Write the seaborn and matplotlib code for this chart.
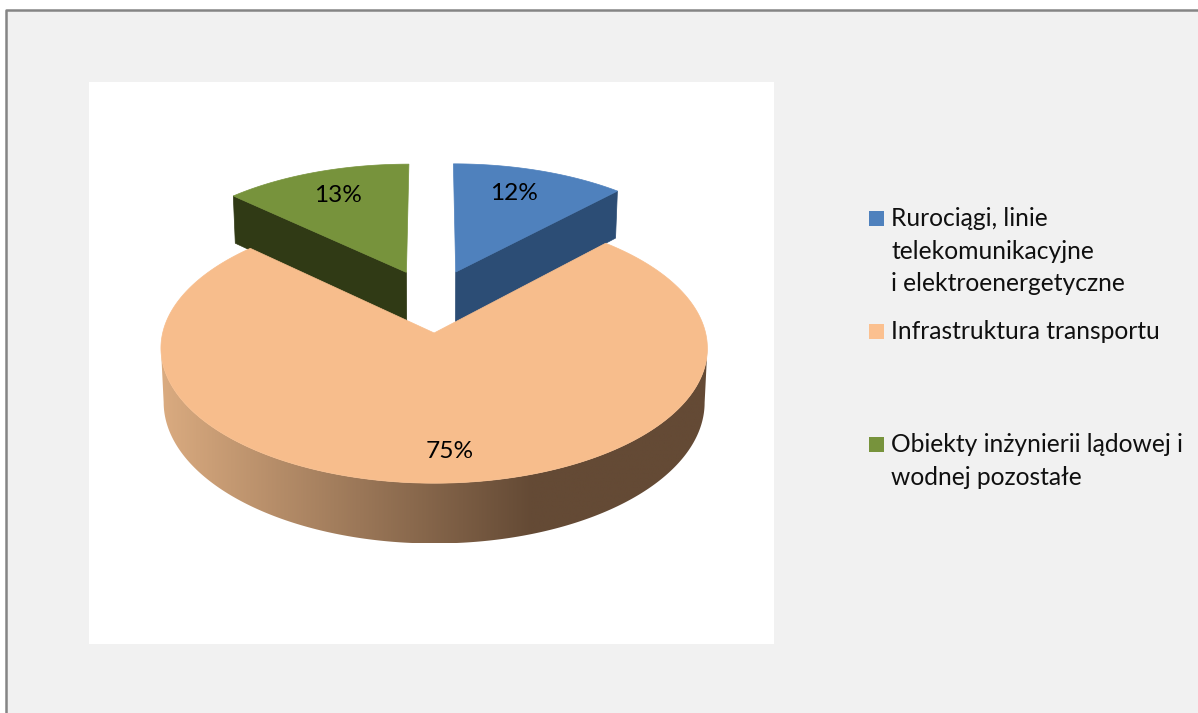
import numpy as np
import matplotlib
matplotlib.use('Agg')
import matplotlib.pyplot as plt
from matplotlib.patches import Polygon, Rectangle
import seaborn as sns

# Data
categories = ['Rurociągi, linie\ntelekomunikacyjne\ni elektroenergetyczne',
              'Infrastruktura transportu',
              'Obiekty inżynierii lądowej i\nwodnej pozostałe']
values = [12, 75, 13]
pct_labels = ['12%', '75%', '13%']

top_colors = ['#4F81BD', '#F7BD8C', '#77933C']
wall_colors = ['#2C4D75', '#8A6A4C', '#303A15']
legend_colors = ['#4F81BD', '#FBC08F', '#77933C']

# Layout, in pixels of the 1198x713 picture
cx, cy = 432, 300.6
sx, sy = 264, 126
persp = 0.11
explode = 0.25
depth = 52
pct_pos = [(514, 199.5), (450, 457.5), (338, 201.5)]
legend_y = [226, 339, 452]
line_h = 32.6

sns.set_theme(style='white')
plt.rcParams['font.family'] = ['Lato', 'DejaVu Sans']

fig = plt.figure(figsize=(11.98, 7.13), dpi=100, facecolor='white')
ax = fig.add_axes([0, 0, 1, 1])

# grey chart area, border on top and left, white plot area
ax.add_patch(Rectangle((6, 10), 1192, 703, fc='#F1F1F1', ec='none', zorder=0))
ax.plot([6, 6, 1198], [713, 10, 10], color='#858585', lw=1.8, zorder=1)
ax.add_patch(Rectangle((89, 82), 685, 562, fc='white', ec='none', zorder=1))


def project(x, z, h=0):
    d = 1 - persp * z
    # the lower face of the pie comes out a little narrower
    narrow = 1 - 0.01 * np.asarray(h) / depth
    return cx + sx * narrow * x / d, cy + (sy * z + h) / d


# slice angles run clockwise from the top of the pie
fracs = np.array(values) / sum(values)
ends = np.cumsum(fracs) * 2 * np.pi
starts = ends - fracs * 2 * np.pi
mids = (starts + ends) / 2


def slice_points(i, n=120):
    t = np.linspace(starts[i], ends[i], n)
    ox, oz = explode * np.sin(mids[i]), -explode * np.cos(mids[i])
    return ox, oz, ox + np.sin(t), oz - np.cos(t)


# the two small slices at the back: wall first, then top
for i in [0, 2]:
    ox, oz, rx, rz = slice_points(i)
    k = -1 if i == 0 else 0
    px, py = project(np.array([ox, rx[k], rx[k], ox]), np.array([oz, rz[k], rz[k], oz]),
                     np.array([0, 0, depth, depth]))
    ax.add_patch(Polygon(np.c_[px, py], fc=wall_colors[i], ec=wall_colors[i], lw=0.5, zorder=2))
    px, py = project(np.r_[ox, rx], np.r_[oz, rz])
    ax.add_patch(Polygon(np.c_[px, py], fc=top_colors[i], ec=top_colors[i], lw=0.5, zorder=3))

# big slice: shaded rim as a gradient clipped to the rim outline, then top
ox, oz, rx, rz = slice_points(1, 800)
tx, ty = project(rx, rz)
bx, by = project(rx, rz, depth)
# rim outline runs between the left and right extremes of each arc
t_r, t_l = tx.argmax(), tx.argmin()
b_r, b_l = bx.argmax(), bx.argmin()
outline = np.r_[np.c_[tx, ty][t_r:t_l + 1], np.c_[bx, by][b_r:b_l + 1][::-1]]
rim = Polygon(outline, fc='none', ec='none', zorder=4)
ax.add_patch(rim)
shade = sns.blend_palette(['#DAAB80', '#644A35'], 340) + [sns.desaturate('#644A35', 1)] * 160
grad = ax.imshow(np.array([shade])[:, :, :3], aspect='auto', interpolation='bilinear', zorder=4,
                 extent=(tx.min(), tx.max(), by.max(), ty.min()))
grad.set_clip_path(rim)
px, py = project(np.r_[ox, rx], np.r_[oz, rz])
ax.add_patch(Polygon(np.c_[px, py], fc=top_colors[1], ec=top_colors[1], lw=0.5, zorder=5))

ax.set_xlim(0, 1198)
ax.set_ylim(713, 0)
ax.axis('off')

# percentage labels
for lab, (x, y) in zip(pct_labels, pct_pos):
    ax.text(x, y, lab, ha='center', va='baseline', fontsize=17.6, color='black', zorder=6)

# legend
for name, col, y in zip(categories, legend_colors, legend_y):
    ax.add_patch(Rectangle((869, y - 15), 15, 15, fc=col, ec='none', zorder=6))
    for n, line in enumerate(name.split('\n')):
        ax.text(891, y + n * line_h, line, ha='left', va='baseline', fontsize=17.7,
                color='#101010', zorder=6)

fig.savefig('out.png', dpi=100)
